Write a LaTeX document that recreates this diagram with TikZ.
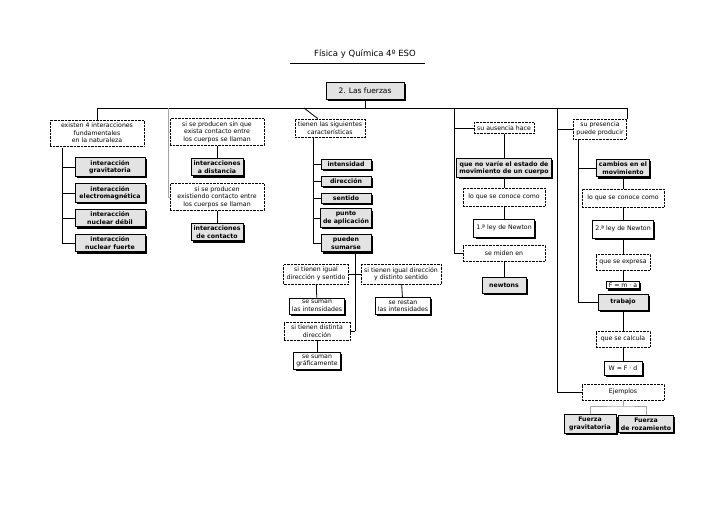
\documentclass[tikz,border=0pt]{standalone}
\usepackage{fontspec}
\setmainfont{DejaVu Sans}
\usetikzlibrary{shadows}
\tikzset{
  dotbox/.style={draw, densely dotted, fill=white, align=center, inner xsep=3pt, inner ysep=3pt, font=\fontsize{6.2}{7.6}\selectfont},
  graybox/.style={draw, thick, fill=gray!22, align=center, inner sep=2.5pt, font=\fontsize{6.2}{7.6}\selectfont\bfseries,
    drop shadow={shadow xshift=1.8pt, shadow yshift=-1.8pt, fill=black, opacity=1}},
  whitebox/.style={draw, thick, fill=white, align=center, inner sep=2.5pt, font=\fontsize{6.2}{7.6}\selectfont,
    drop shadow={shadow xshift=1.8pt, shadow yshift=-1.8pt, fill=black, opacity=1}},
  link/.style={thick},
  glink/.style={thick, gray!70},
}
\begin{document}
\begin{tikzpicture}[x=1pt, y=-1pt]
  \useasboundingbox (0,0) rectangle (728,515);

  % titulo
  \node (titulo) at (365,54) {\fontsize{8.5}{10}\selectfont Física y Química 4º ESO};
  \draw (290,63) -- (425,63);
  \node[graybox, font=\fontsize{7.5}{9}\selectfont, minimum width=78pt, minimum height=17pt] (fuerzas) at (365,91) {2. Las fuerzas};

  % barra principal
  \coordinate (b1) at (97,108);
  \coordinate (b2) at (168,108);
  \coordinate (b3) at (304,108);
  \coordinate (b4) at (454,108);
  \coordinate (b5) at (557,108);
  \coordinate (b6) at (627,108);
  \draw[link] (b1) -- (b6);
  \draw[link] (fuerzas) -- (365,108);

  % interacciones
  \node[dotbox, minimum width=94pt] (inter) at (97,133) {existen 4 interacciones\\fundamentales\\en la naturaleza};
  \node[graybox, minimum width=70pt] (grav) at (110,167) {interacción\\gravitatoria};
  \node[graybox, minimum width=70pt] (elec) at (110,193) {interacción\\electromagnética};
  \node[graybox, minimum width=70pt] (debil) at (110,218) {interacción\\nuclear débil};
  \node[graybox, minimum width=70pt] (fuerte) at (110,243) {interacción\\nuclear fuerte};
  \draw[link] (b1) -- (inter);
  \draw[link] (62,148) -- (62,243);
  \foreach \n in {grav,elec,debil,fuerte} \draw[link] (62,0 |- \n.west) -- (\n.west);

  % distancia y contacto
  \node[dotbox, minimum width=94pt] (sin) at (217,132) {si se producen sin que\\exista contacto entre\\los cuerpos se llaman};
  \node[graybox, minimum width=52pt] (dist) at (217,167) {interacciones\\a distancia};
  \node[dotbox, minimum width=94pt] (con) at (217,197) {si se producen\\existiendo contacto entre\\los cuerpos se llaman};
  \node[graybox, minimum width=52pt] (cont) at (217,232) {interacciones\\de contacto};
  \draw[glink] (b2) -- (168,197);
  \draw[glink] (168,0 |- sin.west) -- (sin.west);
  \draw[glink] (168,0 |- con.west) -- (con.west);
  \draw[link] (sin) -- (dist);
  \draw[link] (con) -- (cont);

  % caracteristicas
  \node[dotbox] (carac) at (330,128) {tienen las siguientes\\características};
  \node[graybox, minimum width=50pt] (inten) at (346,164) {intensidad};
  \node[graybox, minimum width=50pt] (direc) at (346,181) {dirección};
  \node[graybox, minimum width=50pt] (sent) at (346,198) {sentido};
  \node[graybox, minimum width=50pt] (punto) at (346,218) {punto\\de aplicación};
  \node[graybox, minimum width=50pt] (sumar) at (346,243) {pueden\\sumarse};
  \draw[link] (b3) -- (carac);
  \draw[link] (313,138) -- (313,243);
  \foreach \n in {inten,direc,sent,punto,sumar} \draw[link] (313,0 |- \n.west) -- (\n.west);

  \node[dotbox] (igual) at (316,274) {si tienen igual\\dirección y sentido};
  \node[dotbox] (opuesto) at (401,274) {si tienen igual dirección\\y distinto sentido};
  \node[dotbox, minimum width=66pt] (distinta) at (317,331) {si tienen distinta\\dirección};
  \node[whitebox] (suman) at (317,306) {se suman\\las intensidades};
  \node[whitebox] (restan) at (403,306) {se restan\\las intensidades};
  \node[whitebox] (grafic) at (317,361) {se suman\\gráficamente};
  \draw[link] (sumar.south -| 355,0) -- (355,331);
  \draw[link] (igual.east) -- (opuesto.west);
  \draw[link] (355,331) -- (distinta.east);
  \draw[link] (igual) -- (suman);
  \draw[link] (opuesto) -- (restan);
  \draw[link] (distinta) -- (grafic);

  % primera ley
  \node[dotbox, minimum width=60pt] (ausen) at (504,128) {su ausencia hace};
  \node[graybox] (novar) at (504,168) {que no varíe el estado de\\movimiento de un cuerpo};
  \node[dotbox, minimum width=82pt, minimum height=18pt] (conoce1) at (504,197) {lo que se conoce como};
  \node[whitebox, minimum width=60pt, minimum height=18pt] (ley1) at (504,228) {1.ª ley de Newton};
  \node[dotbox, minimum width=82pt, minimum height=16pt] (miden) at (504,253) {se miden en};
  \node[graybox, minimum width=44pt, minimum height=16pt] (newtons) at (504,285) {newtons};
  \draw[link] (b4) |- (miden.west);
  \draw[link] (454,0 |- ausen.west) -- (ausen.west);
  \draw[link] (ausen) -- (novar) -- (conoce1) -- (ley1);
  \draw[link] (miden) -- (newtons);

  % segunda ley
  \node[dotbox] (presen) at (600,129) {su presencia\\puede producir};
  \node[graybox, minimum width=48pt] (cambios) at (623,168) {cambios en el\\movimiento};
  \node[dotbox, minimum width=82pt, minimum height=18pt] (conoce2) at (623,198) {lo que se conoce como};
  \node[whitebox, minimum width=56pt, minimum height=18pt] (ley2) at (623,229) {2.ª ley de Newton};
  \node[dotbox, minimum width=54pt, minimum height=16pt] (expresa) at (623,262) {que se expresa};
  \node[whitebox, minimum width=33pt, inner sep=1.5pt] (fma) at (623,285) {F = m · a};
  \node[graybox, minimum width=50pt, minimum height=16pt] (trabajo) at (623,302) {trabajo};
  \node[dotbox, minimum width=54pt, minimum height=16pt] (calcula) at (623,339) {que se calcula};
  \node[whitebox, minimum width=38pt, minimum height=14pt] (wfd) at (623,368) {W = F · d};
  \node[dotbox, minimum width=82pt, minimum height=16pt] (ejemplos) at (623,392) {Ejemplos};
  \node[graybox, minimum width=52pt] (fgrav) at (590,424) {Fuerza\\gravitatoria};
  \node[graybox, minimum width=52pt] (froz) at (646,424) {Fuerza\\de rozamiento};
  \draw[link] (b5) |- (ejemplos.west);
  \draw[link] (b6) -- (presen.north -| b6);
  \draw[link] (557,0 |- presen.west) -- (presen.west);
  \draw[link] (578,140) |- (trabajo.west);
  \draw[link] (578,0 |- cambios.west) -- (cambios.west);
  \draw[link] (cambios) -- (conoce2) -- (ley2) -- (expresa) -- (fma);
  \draw[link] (trabajo) -- (calcula) -- (wfd);
  \draw[glink] (ejemplos.south) -- (623,406);
  \draw[glink] (fgrav.north) |- (623,406) -| (froz.north);
\end{tikzpicture}
\end{document}
